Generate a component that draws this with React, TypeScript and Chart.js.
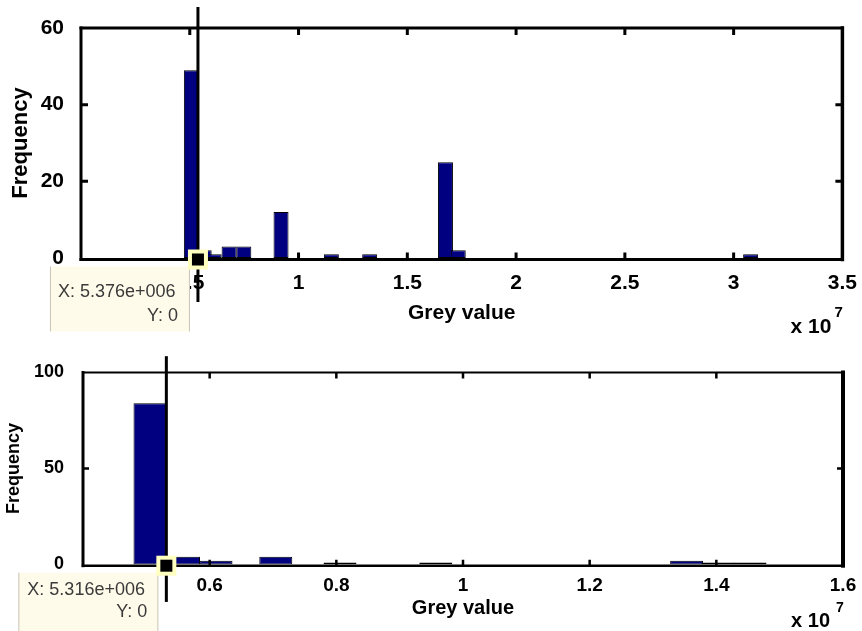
import React, { useEffect, useRef } from 'react';
import { Chart, registerables } from 'chart.js';

Chart.register(...registerables);

const FONT = "'Liberation Sans', Arial, Helvetica, sans-serif";
const NAVY = '#000080';

// ---------- Top histogram data ----------
const topBinCenters = [5.074e6, 5.662e6, 6.122e6, 6.808e6, 7.484e6, 9.195e6, 11.509e6, 13.271e6, 16.753e6, 17.341e6, 30.782e6];
const topCounts = [49, 2, 1, 3, 3, 12, 1, 1, 25, 2, 1];
const topXTickValues = [0, 5e6, 10e6, 15e6, 20e6, 25e6, 30e6, 35e6];
const topXTickLabels = ['0', '0.5', '1', '1.5', '2', '2.5', '3', '3.5'];
const topYTickValues = [0, 20, 40, 60];
const topYTickLabels = ['0', '20', '40', '60'];
const topCursorPoint = [5.376e6, 0];
const topCursorSpan = [-11.5, 65.5];
const topTipLines = ['X: 5.376e+006', 'Y: 0'];

// ---------- Bottom histogram data ----------
const bottomBinCenters = [5.058e6, 5.587e6, 6.1e6, 7.044e6, 8.058e6, 9.571e6, 13.531e6, 14.027e6, 14.532e6];
const bottomCounts = [84, 4, 2, 4, 1, 1, 2, 1, 1];
const bottomXTickValues = [4e6, 6e6, 8e6, 10e6, 12e6, 14e6, 16e6];
const bottomXTickLabels = ['0.4', '0.6', '0.8', '1', '1.2', '1.4', '1.6'];
const bottomYTickValues = [0, 50, 100];
const bottomYTickLabels = ['0', '50', '100'];
const bottomCursorPoint = [5.316e6, 0];
const bottomCursorSpan = [-19.5, 108.5];
const bottomTipLines = ['X: 5.316e+006', 'Y: 0'];

const xTitle = 'Grey value';
const yTitle = 'Frequency';
const exponentBase = 'x 10';
const exponentPower = '7';

const matlabFrame = {
  id: 'matlabFrame',
  afterDraw(chart: any, _args: any, o: any) {
    const { ctx, chartArea: a, scales } = chart;
    const xs = scales.x;
    const ys = scales.y;
    ctx.save();
    ctx.strokeStyle = '#000';
    ctx.lineCap = 'butt';
    const yb = a.bottom + o.bottomShift;

    // inward tick marks
    ctx.lineWidth = o.tickWidth;
    ctx.beginPath();
    xs.ticks.forEach((t: any) => {
      const px = xs.getPixelForValue(t.value);
      if (px <= a.left + 2 || px >= a.right - 2) return;
      ctx.moveTo(px, yb);
      ctx.lineTo(px, yb - o.tickLen);
      ctx.moveTo(px, a.top);
      ctx.lineTo(px, a.top + o.tickLen);
    });
    ys.ticks.forEach((t: any) => {
      const py = ys.getPixelForValue(t.value);
      if (py <= a.top + 2 || py >= a.bottom - 2) return;
      ctx.moveTo(a.left, py);
      ctx.lineTo(a.left + o.tickLen, py);
      ctx.moveTo(a.right, py);
      ctx.lineTo(a.right - o.tickLen, py);
    });
    ctx.stroke();

    // axes box
    ctx.lineCap = 'square';
    const seg = (w: number, x1: number, y1: number, x2: number, y2: number) => {
      ctx.lineWidth = w;
      ctx.beginPath();
      ctx.moveTo(x1, y1);
      ctx.lineTo(x2, y2);
      ctx.stroke();
    };
    seg(o.boxTop, a.left, a.top, a.right, a.top);
    seg(o.boxBottom, a.left, yb, a.right, yb);
    seg(o.boxLeft, a.left, a.top, a.left, yb);
    seg(o.boxRight, a.right, a.top, a.right, yb);

    // cursor line
    const cx = xs.getPixelForValue(o.cursor[0]);
    const cy = ys.getPixelForValue(o.cursor[1]) + o.bottomShift;
    ctx.lineCap = 'butt';
    seg(3, cx, ys.getPixelForValue(o.span[1]), cx, ys.getPixelForValue(o.span[0]));

    // datatip box
    const bx = cx - o.tipDx - o.tipW;
    const by = cy + o.tipDy;
    ctx.fillStyle = '#fffbea';
    ctx.fillRect(bx, by, o.tipW, o.tipH);
    ctx.strokeStyle = '#c8c4b8';
    ctx.lineWidth = 1;
    ctx.beginPath();
    ctx.moveTo(bx + 0.5, by);
    ctx.lineTo(bx + 0.5, by + o.tipH);
    ctx.moveTo(bx + o.tipW - 0.5, by);
    ctx.lineTo(bx + o.tipW - 0.5, by + o.tipH);
    ctx.stroke();
    ctx.fillStyle = '#3a3a3a';
    ctx.font = `${o.tipFontSize}px ${FONT}`;
    ctx.textBaseline = 'alphabetic';
    ctx.textAlign = 'left';
    ctx.fillText(o.tipLines[0], bx + o.l1x, by + o.l1y);
    ctx.textAlign = 'right';
    ctx.fillText(o.tipLines[1], bx + o.tipW - o.l2x, by + o.l2y);

    // data marker
    ctx.fillStyle = '#ffffc0';
    ctx.fillRect(cx - 10, cy - 10, 20, 20);
    ctx.fillStyle = '#000';
    ctx.fillRect(cx - 6, cy - 6, 12, 12);

    // exponent label
    ctx.fillStyle = '#000';
    ctx.font = `bold ${o.expFont}px ${FONT}`;
    ctx.textAlign = 'right';
    ctx.fillText(exponentBase, a.right + o.expDx, a.bottom + o.expDy);
    ctx.font = `bold ${o.supFont}px ${FONT}`;
    ctx.textAlign = 'left';
    ctx.fillText(exponentPower, a.right + o.supDx, a.bottom + o.supDy);
    ctx.restore();
  },
};

function buildConfig(s: any) {
  return {
    type: 'bar',
    data: {
      datasets: [
        {
          data: s.centers.map((c: number, i: number) => ({ x: c, y: s.counts[i] })),
          backgroundColor: NAVY,
          borderColor: '#000',
          borderWidth: 1,
          borderSkipped: false,
          categoryPercentage: 1,
          barPercentage: s.barRatio,
        },
      ],
    },
    options: {
      animation: false,
      responsive: false,
      maintainAspectRatio: false,
      layout: { padding: { top: s.padTop, right: s.padRight, left: 0, bottom: 0 } },
      plugins: {
        legend: { display: false },
        tooltip: { enabled: false },
        matlabFrame: s.frame,
      },
      scales: {
        x: {
          type: 'linear',
          offset: false,
          min: s.xTicks[0],
          max: s.xTicks[s.xTicks.length - 1],
          afterBuildTicks: (sc: any) => {
            sc.ticks = s.xTicks.map((v: number) => ({ value: v }));
          },
          afterFit: (sc: any) => {
            sc.height = s.xHeight;
          },
          ticks: {
            autoSkip: false,
            maxRotation: 0,
            minRotation: 0,
            padding: s.xTickPad,
            color: '#000',
            font: { family: FONT, size: s.xTickFont, weight: 'bold' },
            callback: (_v: any, i: number) => s.xLabels[i],
          },
          grid: { display: false, offset: false },
          border: { display: false },
          title: {
            display: true,
            text: xTitle,
            color: '#000',
            font: { family: FONT, size: s.xTitleFont, weight: 'bold' },
            padding: { top: 0, bottom: s.xTitlePad },
          },
        },
        y: {
          type: 'linear',
          min: s.yTicks[0],
          max: s.yTicks[s.yTicks.length - 1],
          afterBuildTicks: (sc: any) => {
            sc.ticks = s.yTicks.map((v: number) => ({ value: v }));
          },
          afterFit: (sc: any) => {
            sc.width = s.yWidth;
          },
          ticks: {
            autoSkip: false,
            padding: s.yTickPad,
            color: '#000',
            font: { family: FONT, size: s.yTickFont, weight: 'bold' },
            callback: (_v: any, i: number) => s.yLabels[i],
          },
          grid: { display: false },
          border: { display: false },
          title: {
            display: true,
            text: yTitle,
            color: '#000',
            font: { family: FONT, size: s.yTitleFont, weight: 'bold' },
            padding: { top: s.yTitlePad, bottom: 0 },
          },
        },
      },
    },
    plugins: [matlabFrame],
  };
}

const topSpec = {
  centers: topBinCenters,
  counts: topCounts,
  barRatio: 1.5,
  xTicks: topXTickValues,
  xLabels: topXTickLabels,
  yTicks: topYTickValues,
  yLabels: topYTickLabels,
  padTop: 28,
  padRight: 19,
  xHeight: 82,
  yWidth: 81,
  xTickPad: 5,
  xTickFont: 21,
  yTickPad: 9,
  yTickFont: 21,
  xTitleFont: 21,
  xTitlePad: 14,
  yTitleFont: 22,
  yTitlePad: 8,
  frame: {
    bottomShift: 1.5,
    tickLen: 7,
    tickWidth: 3,
    boxTop: 3,
    boxBottom: 3,
    boxLeft: 3,
    boxRight: 3.5,
    cursor: topCursorPoint,
    span: topCursorSpan,
    tipLines: topTipLines,
    tipW: 140,
    tipH: 65,
    tipDx: 8,
    tipDy: 7,
    tipFontSize: 18,
    l1x: 8,
    l1y: 30,
    l2x: 12,
    l2y: 54,
    expFont: 21,
    expDx: -11,
    expDy: 75,
    supFont: 15,
    supDx: -8,
    supDy: 59,
  },
};

const bottomSpec = {
  centers: bottomBinCenters,
  counts: bottomCounts,
  barRatio: 1.05,
  xTicks: bottomXTickValues,
  xLabels: bottomXTickLabels,
  yTicks: bottomYTickValues,
  yLabels: bottomYTickLabels,
  padTop: 32.5,
  padRight: 19,
  xHeight: 66.5,
  yWidth: 83,
  xTickPad: 2,
  xTickFont: 19,
  yTickPad: 11,
  yTickFont: 18,
  xTitleFont: 20,
  xTitlePad: 11,
  yTitleFont: 18,
  yTitlePad: 3,
  frame: {
    bottomShift: 1.2,
    tickLen: 6,
    tickWidth: 2.5,
    boxTop: 2,
    boxBottom: 2.5,
    boxLeft: 3,
    boxRight: 4,
    cursor: bottomCursorPoint,
    span: bottomCursorSpan,
    tipLines: bottomTipLines,
    tipW: 140,
    tipH: 60,
    tipDx: 8,
    tipDy: 7,
    tipFontSize: 18,
    l1x: 9,
    l1y: 22,
    l2x: 11,
    l2y: 44,
    expFont: 20,
    expDx: -13,
    expDy: 62.5,
    supFont: 14,
    supDx: -7,
    supDy: 47.5,
  },
};

function HistChart({ spec, top, width, height }: { spec: any; top: number; width: number; height: number }) {
  const ref = useRef<HTMLCanvasElement>(null);
  useEffect(() => {
    const chart = new Chart(ref.current as HTMLCanvasElement, buildConfig(spec) as any);
    return () => chart.destroy();
  }, [spec]);
  return (
    <canvas
      ref={ref}
      width={width}
      height={height}
      style={{ position: 'absolute', left: 0, top, width, height, display: 'block' }}
    />
  );
}

export default function App() {
  return (
    <div style={{ position: 'absolute', left: 0, top: 0, width: 862, height: 631, background: '#fff', overflow: 'hidden' }}>
      <HistChart spec={topSpec} top={0} width={862} height={340} />
      <HistChart spec={bottomSpec} top={340} width={862} height={291} />
    </div>
  );
}
